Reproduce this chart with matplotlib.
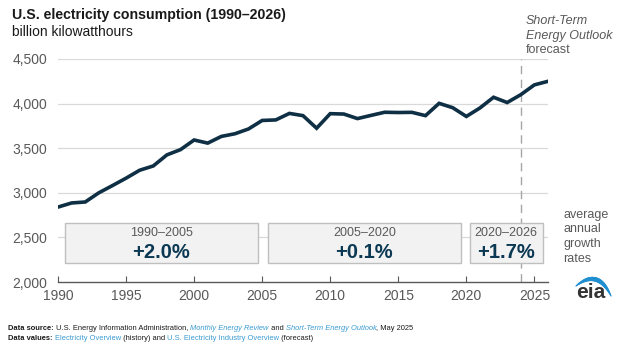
import matplotlib
matplotlib.use("Agg")
import matplotlib.pyplot as plt
from matplotlib.patches import Rectangle
from matplotlib import font_manager
import numpy as np

plt.rcParams['font.family'] = ['Liberation Sans', 'DejaVu Sans']

years = list(range(1990, 2027))
consumption = [2840, 2886, 2897, 3000, 3081, 3164, 3253, 3301, 3425, 3484,
               3592, 3557, 3632, 3662, 3716, 3811, 3817, 3890, 3865, 3724,
               3887, 3883, 3832, 3868, 3903, 3900, 3902, 3865, 4003, 3954,
               3856, 3951, 4071, 4012, 4100, 4210, 4250]
forecast_start = 2024

periods = ["1990\u20132005", "2005\u20132020", "2020\u20132026"]
rates = ["+2.0%", "+0.1%", "+1.7%"]
box_x0 = [1990.5, 2005.4, 2020.25]
box_x1 = [2004.7, 2019.6, 2025.6]

yticks = [2000, 2500, 3000, 3500, 4000, 4500]
xticks = [1990, 1995, 2000, 2005, 2010, 2015, 2020, 2025]

W, H = 624, 350
fig = plt.figure(figsize=(W/100, H/100), dpi=100)
ax = fig.add_axes([58/W, 1-282/H, (548-58)/W, (282-59)/H])
ax.set_xlim(1990, 2026)
ax.set_ylim(2000, 4500)

gray_txt = '#595959'
for y in yticks[1:]:
    ax.axhline(y, color='#d9d9d9', lw=0.9, zorder=0)

ax.plot(years, consumption, color='#0e2f44', lw=2.6, solid_joinstyle='miter', zorder=3)

ax.axvline(forecast_start, color='#a6a6a6', lw=1.0, ls=(0, (6, 4)), zorder=1)

for x0, x1, p, r in zip(box_x0, box_x1, periods, rates):
    ax.add_patch(Rectangle((x0, 2215), x1-x0, 2660-2215, facecolor='#f2f2f2',
                           edgecolor='#bfbfbf', lw=1.0, zorder=2))
    xc = (x0+x1)/2
    ax.text(xc, 2552, p, ha='center', va='center', fontsize=9, color=gray_txt, zorder=4)
    ax.text(xc, 2335, r, ha='center', va='center', fontsize=14.5, fontweight='bold',
            color='#0b3954', zorder=4)

for s in ['top', 'right', 'left']:
    ax.spines[s].set_visible(False)
ax.spines['bottom'].set_color('#595959')
ax.spines['bottom'].set_linewidth(1.0)
ax.set_yticks(yticks)
ax.set_yticklabels([f"{v:,}" for v in yticks], fontsize=10, color=gray_txt)
ax.tick_params(axis='y', length=0, pad=8)
ax.set_xticks(xticks)
ax.set_xticklabels([str(v) for v in xticks], fontsize=10, color=gray_txt)
ax.tick_params(axis='x', length=4, color='#595959', direction='in', pad=5)

# titles
fig.text(12/W, 1-15/H, "U.S. electricity consumption (1990\u20132026)", fontsize=10.2,
         fontweight='bold', color='#1a1a1a', va='center')
fig.text(12/W, 1-32/H, "billion kilowatthours", fontsize=10, color='#1a1a1a', va='center')

# forecast annotation
fig.text(526/W, 1-21/H, "Short-Term", fontsize=9, style='italic', color=gray_txt, va='center')
fig.text(526/W, 1-35.5/H, "Energy Outlook", fontsize=9, style='italic', color=gray_txt, va='center')
fig.text(526/W, 1-50/H, "forecast", fontsize=9, color=gray_txt, va='center')

for i, w in enumerate(["average", "annual", "growth", "rates"]):
    fig.text(563/W, 1-(215 + 14.5*i)/H, w, fontsize=9, color=gray_txt, va='center')

# eia logo (overlay axes in pixel coordinates)
ov = fig.add_axes([0, 0, 1, 1], facecolor='none')
ov.set_xlim(0, W); ov.set_ylim(H, 0); ov.axis('off')
ov.text(591, 292.5, "eia", fontsize=15, color='#333333', ha='center', va='center',
        fontweight='bold')
t = np.linspace(0, 1, 41)
p0, p1, p2 = np.array([576, 286]), np.array([598, 268]), np.array([611, 296])
bx = (1-t)**2*p0[0] + 2*(1-t)*t*p1[0] + t**2*p2[0]
by = (1-t)**2*p0[1] + 2*(1-t)*t*p1[1] + t**2*p2[1]
for i in range(len(t)-1):
    tm = (t[i] + t[i+1]) / 2
    ov.plot(bx[i:i+2], by[i:i+2], color='#1f8fd0', lw=0.8 + 2.4*np.sin(np.pi*tm),
            solid_capstyle='round')

# footer
names = {f.name for f in font_manager.fontManager.ttflist}
ffam = ['Liberation Sans Narrow'] if 'Liberation Sans Narrow' in names else ['Liberation Sans']
fsz = 6.6 if ffam[0] == 'Liberation Sans Narrow' else 5.4
renderer = fig.canvas.get_renderer()
def write_line(x, y, parts):
    cx = x
    for txt, kw in parts:
        tt = fig.text(cx/W, 1-y/H, txt, fontsize=fsz, va='center', family=ffam, **kw)
        bb = tt.get_window_extent(renderer=renderer)
        cx += bb.width
    return cx

blk = dict(color='#1a1a1a')
bld = dict(color='#1a1a1a', fontweight='bold')
lnk = dict(color='#3b9bd1')
lnki = dict(color='#3b9bd1', style='italic')
write_line(8, 329, [("Data source: ", bld),
                    ("U.S. Energy Information Administration, ", blk),
                    ("Monthly Energy Review", lnki), (" and ", blk),
                    ("Short-Term Energy Outlook", lnki), (", May 2025", blk)])
write_line(8, 339, [("Data values: ", bld), ("Electricity Overview", lnk),
                    (" (history) and ", blk), ("U.S. Electricity Industry Overview", lnk),
                    (" (forecast)", blk)])

fig.savefig("out.png", dpi=100)
